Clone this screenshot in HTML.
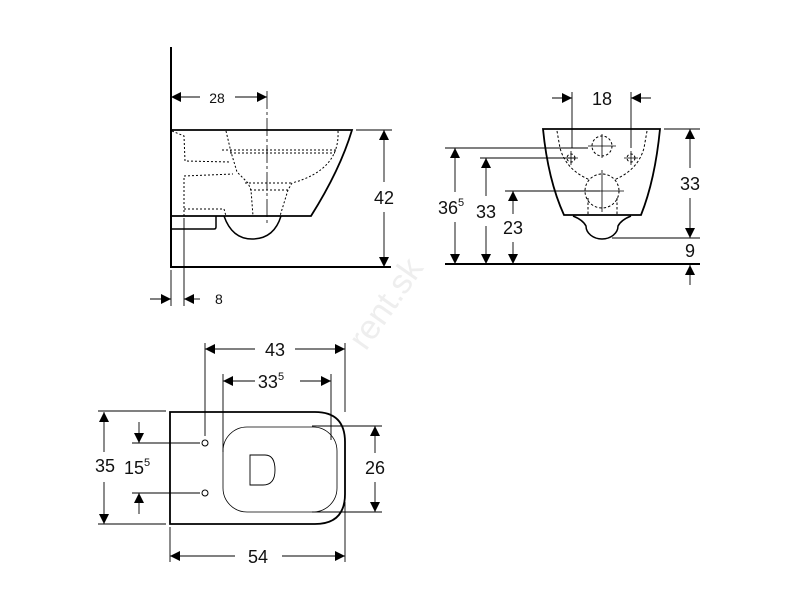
<!DOCTYPE html>
<html><head><meta charset="utf-8"><style>
html,body{margin:0;padding:0;background:#fff;}
svg{display:block;}
text{font-family:"Liberation Sans",Arial,sans-serif;fill:#111;}
</style></head><body>
<svg width="800" height="600" viewBox="0 0 800 600" xmlns="http://www.w3.org/2000/svg">
<defs>
<marker id="a" viewBox="0 0 10 10" refX="10" refY="5" markerWidth="10" markerHeight="10" markerUnits="userSpaceOnUse" orient="auto-start-reverse"><path d="M0,0 L10,5 L0,10 z" fill="#000"/></marker>
</defs>
<g stroke="#000" fill="none">
<!-- SIDE VIEW -->
<line x1="171" y1="47" x2="171" y2="268" stroke-width="2"/>
<line x1="171" y1="267" x2="391" y2="267" stroke-width="2"/>
<path d="M171,130 L352,130 Q340,170 311,216 L171,216" stroke-width="1.8"/>
<path d="M171,229 L214,229 Q216,229 216,227 L216,216" stroke-width="1.5"/>
<path d="M224,216 Q232,239 252,239 Q274,239 281,216" stroke-width="1.5"/>
<g stroke-width="1" stroke-dasharray="2,2">
<path d="M172,131 L184,136 L185,161 L230,162"/>
<path d="M226,131 L231,152 L237,172 L248,183 L251,190 L253,216"/>
<path d="M222,150 L337,150 M230,153 L335,153"/>
<path d="M338,131 Q340,170 292,183 L288,190 L280,216"/>
<path d="M184,216 L184,176 L233,174"/>
<path d="M245,183 L292,183 M250,190 L290,190"/>
<path d="M184,209 L224,209 L226,216"/>
</g>
<line x1="267" y1="91" x2="267" y2="226" stroke-width="0.8" stroke-dasharray="18,3,3,3"/>
<g stroke-width="0.9">
<line x1="356" y1="130" x2="392" y2="130"/>
<line x1="384" y1="130" x2="384" y2="182" marker-start="url(#a)"/>
<line x1="384" y1="212" x2="384" y2="267" marker-end="url(#a)"/>
<line x1="171" y1="97" x2="200" y2="97" marker-start="url(#a)"/>
<line x1="235" y1="97" x2="267" y2="97" marker-end="url(#a)"/>
<line x1="171" y1="270" x2="171" y2="306"/>
<line x1="184" y1="218" x2="184" y2="306"/>
<line x1="150" y1="299" x2="171" y2="299" marker-end="url(#a)"/>
<line x1="200" y1="299" x2="184" y2="299" marker-end="url(#a)"/>
</g>
<!-- FRONT VIEW -->
<path d="M543,129 L660,129 Q655,180 641,215 L564,215 Q548,180 543,129 Z" stroke-width="1.8"/>
<path d="M573,216 Q583,220 586,226 A16,13 0 0 0 618,226 Q621,220 631,216" stroke-width="1.5"/>
<line x1="445" y1="264" x2="700" y2="264" stroke-width="2"/>
<g stroke-width="1" stroke-dasharray="2.5,2">
<path d="M557,131 L560,148 Q566,170 590,180"/>
<path d="M647,131 L644,148 Q638,170 614,180"/>
<circle cx="602" cy="146" r="10"/>
<circle cx="602" cy="191" r="17"/>
<circle cx="571" cy="158" r="4"/>
<circle cx="631" cy="158" r="4"/>
<path d="M588,198 L588,215 M617,198 L617,215"/>
</g>
<g stroke-width="0.8">
<path d="M588,146 L616,146 M602,134 L602,158 M580,191 L624,191 M602,170 L602,212 M564,158 L578,158 M624,158 L638,158 M571,151 L571,165 M631,151 L631,165"/>
</g>
<g stroke-width="0.9">
<line x1="445" y1="148" x2="588" y2="148"/>
<line x1="480" y1="158" x2="575" y2="158"/>
<line x1="505" y1="191" x2="600" y2="191"/>
<line x1="455" y1="148" x2="455" y2="192" marker-start="url(#a)"/>
<line x1="455" y1="222" x2="455" y2="264" marker-end="url(#a)"/>
<line x1="486" y1="158" x2="486" y2="196" marker-start="url(#a)"/>
<line x1="486" y1="226" x2="486" y2="264" marker-end="url(#a)"/>
<line x1="513" y1="191" x2="513" y2="214" marker-start="url(#a)"/>
<line x1="513" y1="242" x2="513" y2="264" marker-end="url(#a)"/>
<line x1="664" y1="129" x2="700" y2="129"/>
<line x1="612" y1="238" x2="700" y2="238"/>
<line x1="690" y1="129" x2="690" y2="168" marker-start="url(#a)"/>
<line x1="690" y1="198" x2="690" y2="238" marker-end="url(#a)"/>
<line x1="690" y1="285" x2="690" y2="265" marker-end="url(#a)"/>
<line x1="572" y1="92" x2="572" y2="148"/>
<line x1="631" y1="92" x2="631" y2="148"/>
<line x1="552" y1="98" x2="572" y2="98" marker-end="url(#a)"/>
<line x1="651" y1="98" x2="631" y2="98" marker-end="url(#a)"/>
</g>
<!-- TOP VIEW -->
<path d="M170,412 L315,412 Q345,412 345,442 L345,494 Q345,524 315,524 L170,524 Z" stroke-width="1.8"/>
<rect x="223" y="427" width="114" height="85" rx="24" stroke-width="0.8"/>
<path d="M250,455 L265,455 Q275,455 275,470 Q275,485 263,485 L250,485 Z" stroke-width="0.9"/>
<circle cx="205" cy="443" r="3" stroke-width="1"/>
<circle cx="205" cy="493" r="3" stroke-width="1"/>
<g stroke-width="0.9">
<line x1="205" y1="343" x2="205" y2="436"/>
<line x1="345" y1="343" x2="345" y2="412"/>
<line x1="205" y1="349" x2="255" y2="349" marker-start="url(#a)"/>
<line x1="295" y1="349" x2="345" y2="349" marker-end="url(#a)"/>
<line x1="223" y1="374" x2="223" y2="452"/>
<line x1="331" y1="374" x2="331" y2="440"/>
<line x1="223" y1="381" x2="255" y2="381" marker-start="url(#a)"/>
<line x1="300" y1="381" x2="331" y2="381" marker-end="url(#a)"/>
<line x1="170" y1="527" x2="170" y2="562"/>
<line x1="345" y1="502" x2="345" y2="562"/>
<line x1="170" y1="556" x2="235" y2="556" marker-start="url(#a)"/>
<line x1="282" y1="556" x2="345" y2="556" marker-end="url(#a)"/>
<line x1="98" y1="411" x2="166" y2="411"/>
<line x1="98" y1="524" x2="166" y2="524"/>
<line x1="104" y1="412" x2="104" y2="452" marker-start="url(#a)"/>
<line x1="104" y1="482" x2="104" y2="524" marker-end="url(#a)"/>
<line x1="132" y1="443" x2="200" y2="443"/>
<line x1="132" y1="493" x2="200" y2="493"/>
<line x1="139" y1="422" x2="139" y2="443" marker-end="url(#a)"/>
<line x1="139" y1="514" x2="139" y2="493" marker-end="url(#a)"/>
<line x1="312" y1="426" x2="382" y2="426"/>
<line x1="312" y1="512" x2="382" y2="512"/>
<line x1="375" y1="426" x2="375" y2="453" marker-start="url(#a)"/>
<line x1="375" y1="482" x2="375" y2="512" marker-end="url(#a)"/>
</g>
</g>
<g font-size="14">
<text x="217" y="103" text-anchor="middle">28</text>
<text x="215" y="304">8</text>
</g>
<g font-size="18">
<text x="384" y="204" text-anchor="middle">42</text>
<text x="602" y="105" text-anchor="middle">18</text>
<text x="690" y="190" text-anchor="middle">33</text>
<text x="690" y="257" text-anchor="middle">9</text>
<text x="438" y="214">36<tspan font-size="11" dy="-8">5</tspan></text>
<text x="486" y="218" text-anchor="middle">33</text>
<text x="513" y="234" text-anchor="middle">23</text>
<text x="275" y="356" text-anchor="middle">43</text>
<text x="271" y="388" text-anchor="middle">33<tspan font-size="11" dy="-8">5</tspan></text>
<text x="258" y="563" text-anchor="middle">54</text>
<text x="95" y="472">35</text>
<text x="124" y="474">15<tspan font-size="11" dy="-8">5</tspan></text>
<text x="375" y="474" text-anchor="middle">26</text>
</g>
<text x="395" y="310" font-size="34" fill="#eee" style="fill:#eeeeee" transform="rotate(-55 395 310)" text-anchor="middle">rent.sk</text>
</svg>
</body></html>
